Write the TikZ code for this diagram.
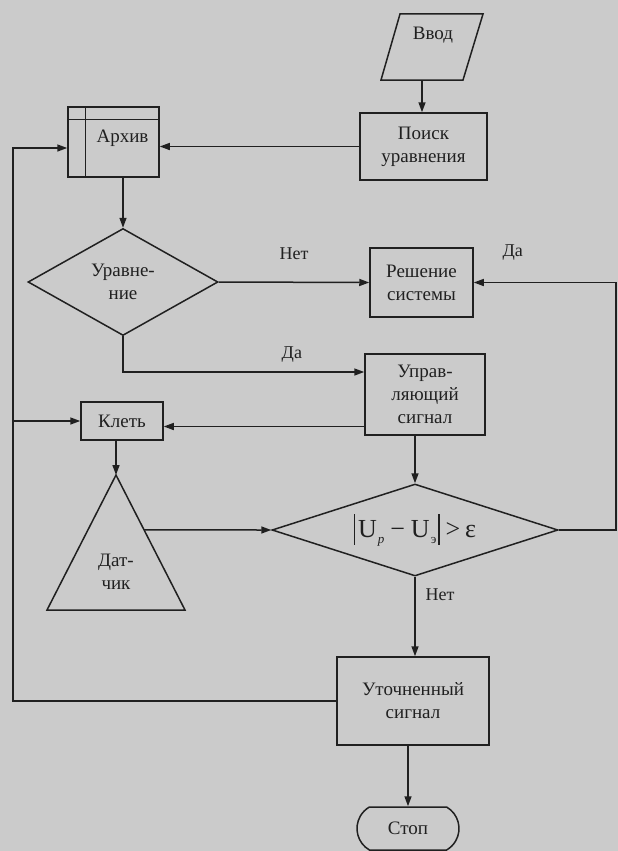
\documentclass[tikz,border=0pt]{standalone}
\usepackage{fontspec}
\setmainfont{Liberation Serif}
\usetikzlibrary{arrows.meta,shapes.geometric,shapes.misc,calc}
\definecolor{paper}{RGB}{203,203,203}
\definecolor{ink}{RGB}{32,32,32}
\newcommand{\cmpbar}{\rule[-7pt]{1.2pt}{31pt}}
\begin{document}
\begin{tikzpicture}[x=1pt,y=-1pt,
  every node/.style={font=\fontsize{19}{23}\selectfont, text=ink, align=center},
  blk/.style={draw=ink, line width=1.5pt, rectangle, inner sep=0pt},
  dec/.style={draw=ink, line width=1.5pt, diamond, inner sep=0pt},
  term/.style={draw=ink, line width=1.5pt, rounded rectangle, rounded rectangle arc length=120, inner sep=0pt},
  wire/.style={draw=ink, line width=1.5pt},
  arr/.style={wire, -{Triangle[length=10pt,width=7pt]}},
  lbl/.style={font=\fontsize{18}{22}\selectfont}
]
\useasboundingbox (0,0) rectangle (618,851);
\fill[paper] (0,0) rectangle (618,851);

% input (parallelogram)
\coordinate (v1) at (381,80);
\coordinate (v2) at (463,80);
\coordinate (v3) at (483,14);
\coordinate (v4) at (400,14);
\draw[wire, line join=miter] (v1) -- (v2) -- (v3) -- (v4) -- cycle;
\node (vvod) at (433,35) {Ввод};
\coordinate (vout) at ($(v1)!0.5!(v2)$);

% blocks
\node[blk, minimum width=127pt, minimum height=67pt] (poisk) at (423.5,146.5) {Поиск\\уравнения};
\node[blk, minimum width=91pt, minimum height=70pt] (arhiv) at (113.5,142) {};
\draw[wire] ([xshift=18pt]arhiv.north west) -- ([xshift=18pt]arhiv.south west);
\draw[wire] ([yshift=-13pt]arhiv.north west) -- ([yshift=-13pt]arhiv.north east);
\node (arhivtxt) at (122.5,138) {Архив};
\node[dec, aspect=1.78, minimum width=190pt, minimum height=107pt] (eq) at (123,282) {Уравне-\\ние};
\node[blk, minimum width=103pt, minimum height=69pt] (resh) at (421.5,282.5) {Решение\\системы};
\node[blk, minimum width=120pt, minimum height=81pt] (upr) at (425,394.5) {Управ-\\ляющий\\сигнал};
\node[blk, minimum width=82pt, minimum height=38pt] (klet) at (122,421) {Клеть};

% sensor (triangle)
\coordinate (dtop) at (116,475);
\coordinate (dbl) at (47,610);
\coordinate (dbr) at (185,610);
\draw[wire, line join=miter] (dtop) -- (dbr) -- (dbl) -- cycle;
\node (dat) at (116,572) {Дат-\\чик};

% comparison
\node[dec, aspect=3.1, minimum width=286pt, minimum height=92pt] (cmp) at (415,530)
  {\fontsize{26}{26}\selectfont\cmpbar\kern3pt U\kern1pt\raisebox{-6pt}{\fontsize{13}{13}\selectfont\textit{р}}\kern6pt−\kern6pt U\kern1pt\raisebox{-6pt}{\fontsize{13}{13}\selectfont э}\kern2pt\cmpbar\kern6pt>\kern5pt ε};

\node[blk, minimum width=152pt, minimum height=88pt] (utoch) at (413,701) {Уточненный\\сигнал};
\node[term, minimum width=102pt, minimum height=43pt] (stop) at (408,828.5) {Стоп};

% return lines
\coordinate (lx) at (13,0);
\coordinate (rx) at (616,0);

% connectors
\draw[arr] (vout) -- (vout |- poisk.north);
\draw[arr] (poisk.west) -- (poisk.west -| arhiv.east);
\draw[arr] (arhiv.south -| eq.north) -- (eq.north);
\draw[arr] (eq.east) -- (resh.west) node[lbl, pos=0.5, yshift=29pt] {Нет};
\draw[arr] (eq.south) |- ($(upr.west)+(0,-22.5)$) node[lbl, pos=0.85, yshift=17pt] {Да};
\draw[arr] (cmp.east) -- (cmp.east -| rx) |- (resh.east);
\node[lbl] (dayes) at ($(resh.east)+(39,-29.5)$) {Да};
\draw[arr] ($(upr.west)+(0,32)$) -- ($(klet.east)+(0,5.5)$);
\draw[arr] (utoch.west) -- (utoch.west -| lx) |- ($(arhiv.west)+(0,6)$);
\draw[arr] (lx |- klet.west) -- (klet.west);
\draw[arr] (klet.south -| dtop) -- (dtop);
\draw[arr] ($(dtop)!0.407!(dbr)$) -- (cmp.west);
\draw[arr] (upr.south -| cmp.north) -- (cmp.north);
\draw[arr] (cmp.south) -- (cmp.south |- utoch.north);
\node[lbl] (net2) at ($(cmp.south)+(25,18)$) {Нет};
\draw[arr] (utoch.south -| stop.north) -- (stop.north);
\end{tikzpicture}
\end{document}
